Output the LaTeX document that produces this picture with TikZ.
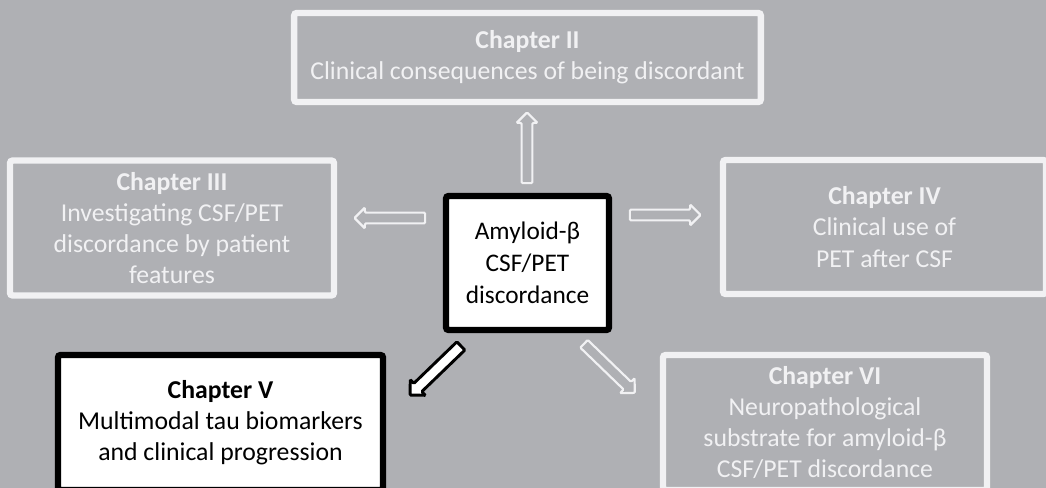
\documentclass[tikz,border=0pt]{standalone}
\usepackage{fontspec}
\setmainfont{Carlito}
\usetikzlibrary{positioning, shapes.arrows}
\definecolor{PanelGrey}{RGB}{175,176,180}
\definecolor{FadeWhite}{RGB}{241,241,243}

\begin{document}
\begin{tikzpicture}[x=0.75pt, y=-0.75pt]
        \tikzstyle{chap} = [rectangle, draw=FadeWhite, line width=4.8pt, fill=PanelGrey,
          text=FadeWhite, rounded corners=2pt, align=center, inner sep=0pt,
          font=\fontsize{19.3}{23.4}\selectfont]
        \tikzstyle{focus} = [chap, draw=black, fill=white, text=black]
        \tikzstyle{hollow} = [single arrow, draw=FadeWhite, line width=1.6pt, fill=PanelGrey,
          inner xsep=0pt, inner ysep=3.2pt, single arrow head extend=3.8pt,
          minimum height=53pt, rounded corners=0.8pt]
        \tikzstyle{solid} = [hollow, draw=black, line width=2.2pt, fill=white]

        \fill[PanelGrey] (0,0) rectangle (1046,488);
        \useasboundingbox (0,0) rectangle (1046,488);

        % chapters round the middle
        \node[chap, minimum width=350pt, minimum height=66.8pt] (ch2) at (527.5,57.5)
          {\textbf{Chapter II}\\Clinical consequences of being discordant};
        \node[chap, minimum width=243pt, minimum height=101.2pt] (ch3) at (172,228)
          {\textbf{Chapter III}\\Investigating CSF/PET\\discordance by patient\\features};
        \node[chap, minimum width=242.2pt, minimum height=100.5pt] (ch4) at (884.5,227)
          {\textbf{Chapter IV}\\Clinical use of\\PET after CSF};
        \node[focus, minimum width=122.2pt, minimum height=100.5pt,
          font=\fontsize{19}{24}\selectfont] (ctr) at (527.5,263)
          {Amyloid-β\\CSF/PET\\discordance};
        \node[focus, minimum width=243.8pt, minimum height=101.2pt] (ch5) at (220.5,422.5)
          {\textbf{Chapter V}\\Multimodal tau biomarkers\\and clinical progression};
        \node[chap, minimum width=243pt, minimum height=101.2pt] (ch6) at (825,422.5)
          {\textbf{Chapter VI}\\Neuropathological\\substrate for amyloid-β\\CSF/PET discordance};

        % arrows out of the middle
        \node[hollow, rotate=90] (toII) at (527,150.5) {};
        \node[hollow, rotate=180] (toIII) at (392.5,218) {};
        \node[hollow] (toIV) at (662.5,215) {};
        \node[solid, rotate=224] (toV) at (437.5,368.5) {};
        \node[hollow, rotate=-44] (toVI) at (607.5,366.5) {};
      \end{tikzpicture}
\end{document}
